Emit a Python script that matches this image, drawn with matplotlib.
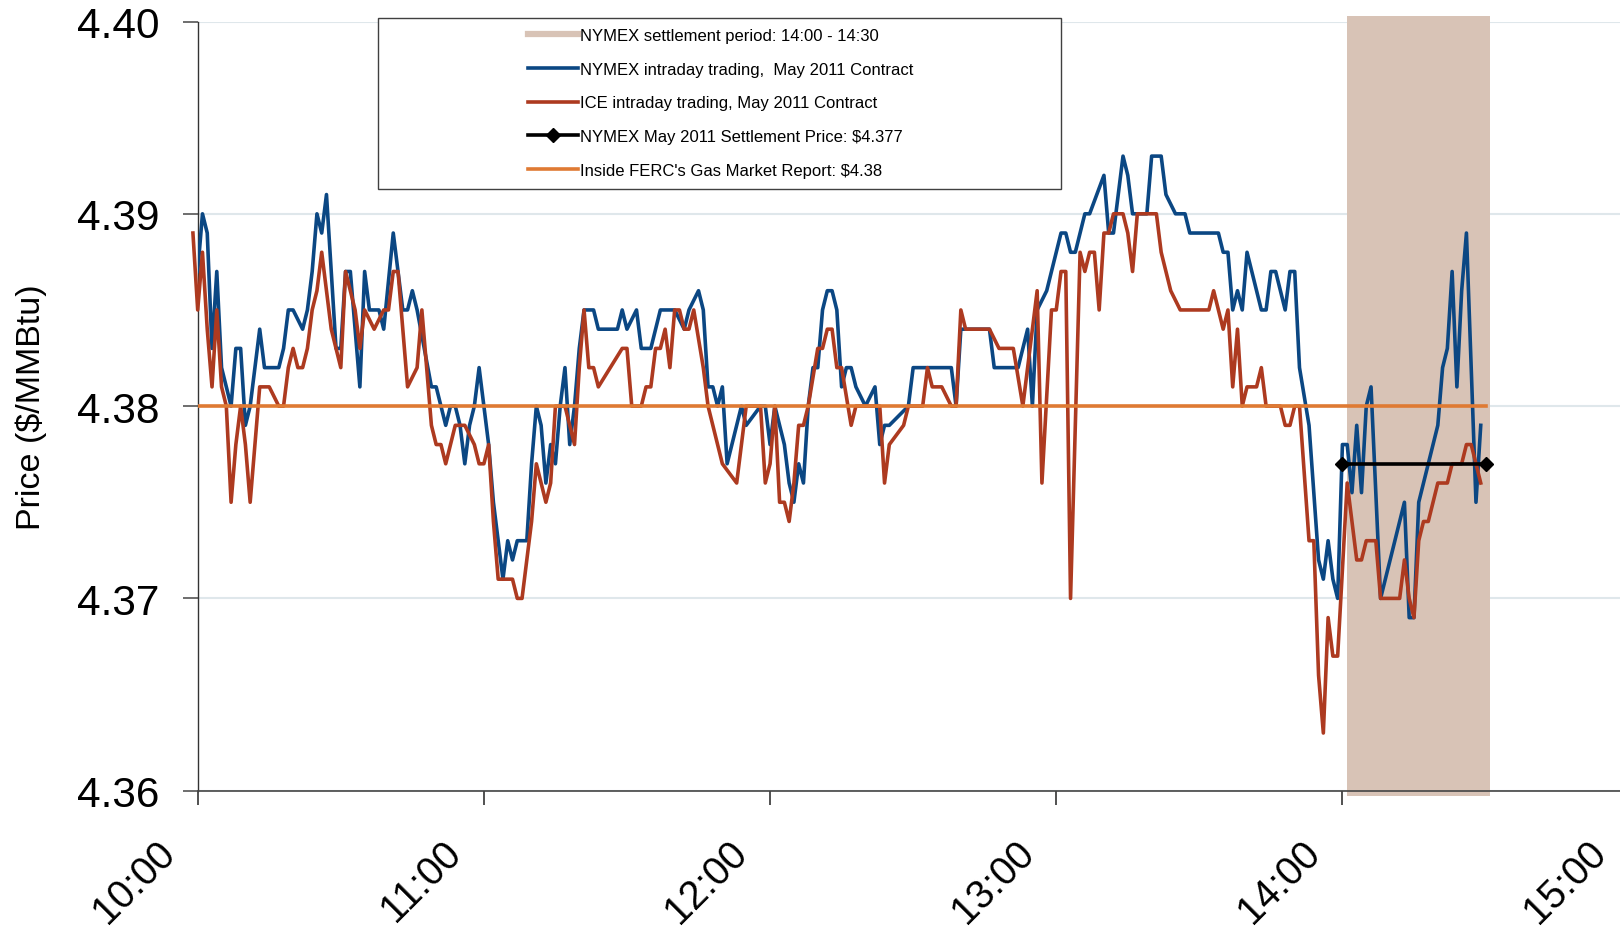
import matplotlib
matplotlib.use("Agg")
import matplotlib.pyplot as plt
import matplotlib.transforms as mtransforms
from matplotlib.patches import Rectangle
from matplotlib.lines import Line2D

plt.rcParams['font.family'] = ['Liberation Sans', 'DejaVu Sans']

# ---------------- data (minutes after 10:00, price $/MMBtu) ----------------
nymex_t = [0, 1, 2, 3, 4, 5, 6, 7, 8, 9, 10, 11, 12, 13, 14, 17, 18, 19, 20, 22,
           23, 24, 25, 26, 27, 29, 30, 31, 32, 34, 35, 36, 38, 39, 41, 42, 43, 44, 45, 46,
           49, 50, 51, 52, 53, 54, 55, 56, 57, 58, 59, 60, 61, 62, 63, 64, 65, 66, 67, 69,
           70, 71, 72, 73, 74, 75, 76, 77, 78, 79, 80, 81, 83, 84, 88, 89, 90, 92, 93, 95,
           97, 100, 102, 103, 105, 106, 107, 108, 109, 110, 111, 114, 115, 118, 119, 120, 121, 123, 124, 125,
           126, 127, 128, 129, 130, 131, 132, 133, 134, 135, 136, 137, 138, 140, 142, 143, 144, 145, 149, 150,
           158, 159, 160, 166, 167, 172, 174, 175, 176, 178, 179, 181, 182, 183, 184, 185, 186, 187, 190, 191,
           192, 194, 195, 196, 199, 200, 202, 203, 205, 207, 208, 214, 215, 216, 217, 218, 219, 220, 223, 224,
           225, 226, 228, 229, 230, 231, 233, 235, 236, 237, 238, 239, 240, 241, 242, 243, 244, 245, 246, 248,
           250, 251, 253, 254, 255, 256, 258, 260, 261, 262, 263, 264, 265, 266, 268, 269]
nymex_p = [4.387, 4.390, 4.389, 4.383, 4.387, 4.382, 4.381, 4.380, 4.383, 4.383, 4.379, 4.380, 4.382, 4.384, 4.382, 4.382, 4.383, 4.385, 4.385, 4.384,
           4.385, 4.387, 4.390, 4.389, 4.391, 4.383, 4.383, 4.387, 4.387, 4.381, 4.387, 4.385, 4.385, 4.384, 4.389, 4.387, 4.385, 4.385, 4.386, 4.385,
           4.381, 4.381, 4.380, 4.379, 4.380, 4.380, 4.379, 4.377, 4.379, 4.380, 4.382, 4.380, 4.378, 4.375, 4.373, 4.371, 4.373, 4.372, 4.373, 4.373,
           4.377, 4.380, 4.379, 4.376, 4.378, 4.377, 4.380, 4.382, 4.378, 4.380, 4.383, 4.385, 4.385, 4.384, 4.384, 4.385, 4.384, 4.385, 4.383, 4.383,
           4.385, 4.385, 4.384, 4.385, 4.386, 4.385, 4.381, 4.381, 4.380, 4.381, 4.377, 4.380, 4.379, 4.380, 4.380, 4.378, 4.380, 4.378, 4.376, 4.375,
           4.377, 4.376, 4.380, 4.382, 4.382, 4.385, 4.386, 4.386, 4.385, 4.381, 4.382, 4.382, 4.381, 4.380, 4.381, 4.378, 4.379, 4.379, 4.380, 4.382,
           4.382, 4.380, 4.384, 4.384, 4.382, 4.382, 4.384, 4.380, 4.385, 4.386, 4.387, 4.389, 4.389, 4.388, 4.388, 4.389, 4.390, 4.390, 4.392, 4.389,
           4.389, 4.393, 4.392, 4.390, 4.390, 4.393, 4.393, 4.391, 4.390, 4.390, 4.389, 4.389, 4.388, 4.388, 4.385, 4.386, 4.385, 4.388, 4.385, 4.385,
           4.387, 4.387, 4.385, 4.387, 4.387, 4.382, 4.379, 4.372, 4.371, 4.373, 4.371, 4.370, 4.378, 4.378, 4.3755, 4.379, 4.3755, 4.380, 4.381, 4.370,
           4.372, 4.373, 4.375, 4.369, 4.369, 4.375, 4.377, 4.379, 4.382, 4.383, 4.387, 4.381, 4.386, 4.389, 4.375, 4.379]

ice_t = [-1, 0, 1, 2, 3, 4, 5, 6, 7, 8, 9, 10, 11, 12, 13, 15, 17, 18, 19, 20,
         21, 22, 23, 24, 25, 26, 27, 28, 29, 30, 31, 32, 33, 34, 35, 37, 39, 40, 41, 42,
         43, 44, 46, 47, 48, 49, 50, 51, 52, 53, 54, 56, 58, 59, 60, 61, 62, 63, 66, 67,
         68, 69, 70, 71, 72, 73, 74, 75, 77, 78, 79, 80, 81, 82, 83, 84, 89, 90, 91, 93,
         94, 95, 96, 97, 98, 99, 100, 101, 102, 103, 104, 106, 107, 109, 110, 113, 115, 118, 119, 120,
         121, 122, 123, 124, 125, 126, 127, 128, 130, 131, 132, 133, 134, 135, 137, 138, 143, 144, 145, 148,
         149, 152, 153, 154, 156, 158, 159, 160, 161, 166, 168, 171, 173, 176, 177, 179, 180, 181, 182, 183,
         185, 186, 187, 188, 189, 190, 191, 192, 194, 195, 196, 197, 201, 202, 204, 206, 212, 213, 215, 216,
         217, 218, 219, 220, 222, 223, 224, 227, 228, 229, 230, 231, 233, 234, 235, 236, 237, 238, 239, 241,
         243, 244, 245, 247, 248, 252, 253, 254, 255, 256, 257, 258, 259, 260, 262, 263, 265, 266, 267, 269]
ice_p = [4.389, 4.385, 4.388, 4.384, 4.381, 4.385, 4.381, 4.380, 4.375, 4.378, 4.380, 4.378, 4.375, 4.378, 4.381, 4.381, 4.380, 4.380, 4.382, 4.383,
         4.382, 4.382, 4.383, 4.385, 4.386, 4.388, 4.386, 4.384, 4.383, 4.382, 4.387, 4.386, 4.385, 4.383, 4.385, 4.384, 4.385, 4.385, 4.387, 4.387,
         4.384, 4.381, 4.382, 4.385, 4.382, 4.379, 4.378, 4.378, 4.377, 4.378, 4.379, 4.379, 4.378, 4.377, 4.377, 4.378, 4.374, 4.371, 4.371, 4.370,
         4.370, 4.372, 4.374, 4.377, 4.376, 4.375, 4.376, 4.380, 4.380, 4.379, 4.378, 4.382, 4.385, 4.382, 4.382, 4.381, 4.383, 4.383, 4.380, 4.380,
         4.381, 4.381, 4.383, 4.383, 4.384, 4.382, 4.385, 4.385, 4.384, 4.384, 4.385, 4.382, 4.380, 4.378, 4.377, 4.376, 4.380, 4.380, 4.376, 4.377,
         4.380, 4.375, 4.375, 4.374, 4.376, 4.379, 4.379, 4.380, 4.383, 4.383, 4.384, 4.384, 4.382, 4.382, 4.379, 4.380, 4.380, 4.376, 4.378, 4.379,
         4.380, 4.380, 4.382, 4.381, 4.381, 4.380, 4.380, 4.385, 4.384, 4.384, 4.383, 4.383, 4.380, 4.386, 4.376, 4.385, 4.385, 4.387, 4.387, 4.370,
         4.388, 4.387, 4.388, 4.388, 4.385, 4.389, 4.389, 4.390, 4.390, 4.389, 4.387, 4.390, 4.390, 4.388, 4.386, 4.385, 4.385, 4.386, 4.384, 4.385,
         4.381, 4.384, 4.380, 4.381, 4.381, 4.382, 4.380, 4.380, 4.379, 4.379, 4.380, 4.380, 4.373, 4.373, 4.366, 4.363, 4.369, 4.367, 4.367, 4.376,
         4.372, 4.372, 4.373, 4.373, 4.370, 4.370, 4.372, 4.370, 4.369, 4.373, 4.374, 4.374, 4.375, 4.376, 4.376, 4.377, 4.377, 4.378, 4.378, 4.376]

settle_window = [241, 271]          # shaded settlement period (minutes)
settle_t = [240, 270]
settle_price = 4.377
ferc_t = [0, 270]
ferc_price = 4.38

hour_ticks = [0, 60, 120, 180, 240, 300]
hour_labels = ['10:00', '11:00', '12:00', '13:00', '14:00', '15:00']
price_ticks = [4.36, 4.37, 4.38, 4.39, 4.40]
price_labels = ['4.36', '4.37', '4.38', '4.39', '4.40']

legend_labels = ['NYMEX settlement period: 14:00 - 14:30',
                 'NYMEX intraday trading,  May 2011 Contract',
                 'ICE intraday trading, May 2011 Contract',
                 r'NYMEX May 2011 Settlement Price: \$4.377',
                 r"Inside FERC's Gas Market Report: \$4.38"]

# ---------------- style ----------------
C_BLUE = '#0b4783'
C_RED = '#ad3a20'
C_ORANGE = '#df7a33'
C_SHADE = '#d8c3b6'
C_GRID = '#dfe7eb'
LW = 2.6

W, H = 1620, 929
fig = plt.figure(figsize=(W / 100, H / 100), dpi=100)
ax_l, ax_r, ax_t, ax_b = 197.7, 1628.6, 22.5, 791.7
ax = fig.add_axes([ax_l / W, 1 - ax_b / H, (ax_r - ax_l) / W, (ax_b - ax_t) / H])

ax.set_xlim(0, 300)
ax.set_ylim(4.36, 4.40)

# settlement shading (slightly taller than the plot, like the original bar)
ax.add_patch(Rectangle((settle_window[0], 4.3597), settle_window[1] - settle_window[0], 0.0406,
                       facecolor=C_SHADE, edgecolor='none', zorder=1.5, clip_on=False))

ax.plot(nymex_t, nymex_p, color=C_BLUE, lw=LW, zorder=3)
ax.plot(ice_t, ice_p, color=C_RED, lw=LW, zorder=3.2, clip_on=False)
ax.plot(ferc_t, [ferc_price] * len(ferc_t), color=C_ORANGE, lw=LW, zorder=3.5)
ax.plot(settle_t, [settle_price] * len(settle_t), color='black', lw=LW, marker='D',
        markersize=7, zorder=4)

# axes styling
for s in ['top', 'right']:
    ax.spines[s].set_visible(False)
ax.spines['left'].set_color('#333333')
ax.spines['left'].set_linewidth(1.0)
ax.spines['bottom'].set_color('#444444')
ax.spines['bottom'].set_linewidth(1.2)

ax.set_yticks(price_ticks)
ax.set_yticklabels(price_labels)
ax.set_xticks(hour_ticks)
ax.set_xticklabels(hour_labels)
ax.yaxis.grid(True, color=C_GRID, lw=1.5)
ax.set_axisbelow(True)

ax.tick_params(axis='y', direction='out', length=10.8, width=1.2, color='#555555',
               pad=16.5, labelsize=30.5)
ax.tick_params(axis='x', direction='out', length=10, width=1.2, color='#333333',
               pad=20.5, labelsize=28.5)

offset = mtransforms.ScaledTranslation(-0.42, 0, fig.dpi_scale_trans)
for lab in ax.get_xticklabels():
    lab.set_rotation(45)
    lab.set_ha('right')
    lab.set_va('top')
    lab.set_rotation_mode('anchor')
    lab.set_transform(lab.get_transform() + offset)

ax.set_ylabel(r'Price (\$/MMBtu)', fontsize=24.5)
ax.yaxis.set_label_coords((47 - ax_l) / (ax_r - ax_l), 0.5)

# legend frame and legend
fig.add_artist(Rectangle((378 / W, 1 - 190 / H), (1061 - 378) / W, (190 - 18.6) / H,
                         transform=fig.transFigure, facecolor='white',
                         edgecolor='#404040', lw=1.0, zorder=2))
handles = [Line2D([], [], color=C_SHADE, lw=4.5),
           Line2D([], [], color=C_BLUE, lw=LW),
           Line2D([], [], color=C_RED, lw=LW),
           Line2D([], [], color='black', lw=LW, marker='D', markersize=7),
           Line2D([], [], color=C_ORANGE, lw=LW)]
leg = fig.legend(handles, legend_labels, loc='upper left',
                 bbox_to_anchor=(528 / W, 1 - 29 / H), frameon=False, fontsize=12,
                 handlelength=3.0, handletextpad=0.15, labelspacing=1.12,
                 borderpad=0, borderaxespad=0)
leg.set_zorder(5)

fig.savefig('out.png', dpi=100)
